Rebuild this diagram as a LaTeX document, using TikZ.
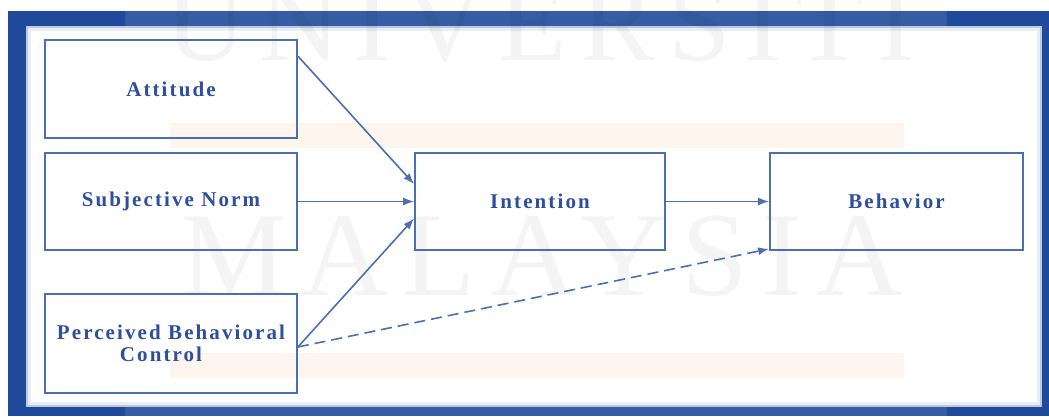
\documentclass[tikz,border=0pt]{standalone}
\usepackage{fontspec}
\setmainfont{Liberation Serif}
\newfontfamily\lblfont{Liberation Serif}[LetterSpace=10]
\newfontfamily\wmfont{Liberation Serif}[LetterSpace=12]
\usetikzlibrary{arrows.meta}
\definecolor{frameblue}{HTML}{1F4A9B}
\definecolor{boxblue}{HTML}{4A6FB5}
\definecolor{txtblue}{HTML}{2E4E9E}
\definecolor{bandorange}{HTML}{FDF5EE}
\begin{document}
\begin{tikzpicture}[x=1pt,y=-1pt,
  box/.style={draw=boxblue,line width=1.8pt,minimum width=252pt,minimum height=97pt,
    inner sep=0pt,align=center,text=txtblue,
    font=\lblfont\bfseries\fontsize{21}{22}\selectfont},
  conn/.style={draw=boxblue,line width=1.6pt,-{Latex[length=11pt,width=8pt]}},
  dconn/.style={conn,dash pattern=on 11pt off 6pt},
  wm/.style={text=black,opacity=0.045,inner sep=0pt,anchor=base}]
\useasboundingbox (0,0) rectangle (1049,416);
\fill[white] (0,0) rectangle (1049,416);
% frame
\fill[frameblue] (8,11) rectangle (1049,416);
\fill[white,opacity=0.1] (125,11) rectangle (947,416);
\fill[frameblue!30!white] (26,26) rectangle (1042,407);
\fill[frameblue!10!white] (28,28) rectangle (1040,405);
\fill[white] (31,31) rectangle (1037,402);
% faint bands
\fill[bandorange] (170,123) rectangle (904,148);
\fill[bandorange] (170,353) rectangle (904,378);
% watermark
\node[wm,font=\wmfont\fontsize{112}{112}\selectfont] (wm1) at (540,60) {UNIVERSITI};
\node[wm,font=\wmfont\fontsize{120}{120}\selectfont] (wm2) at (542,295) {MALAYSIA};
% boxes
\node[box,minimum height=98pt] (att) at (171,89) {Attitude};
\node[box] (sn) at (171,201.5) {Subjective Norm};
\node[box,minimum height=99pt] (pbc) at (171,343.5) {Perceived Behavioral\\Control\hspace*{20pt}};
\node[box,minimum width=250pt] (int) at (540,201.5) {Intention};
\node[box,minimum width=253pt] (beh) at (896.5,201.5) {Behavior};
% connectors
\draw[conn] ([yshift=-17pt]att.north east) -- ([yshift=-32pt]int.north west);
\draw[conn] (sn.east) -- (int.west);
\draw[conn] ([yshift=-3.5pt]pbc.east) -- ([yshift=-17pt]int.west);
\draw[conn] (int.east) -- (beh.west);
\draw[dconn] ([yshift=-3.5pt]pbc.east) -- ([yshift=2pt]beh.south west);
\end{tikzpicture}
\end{document}
